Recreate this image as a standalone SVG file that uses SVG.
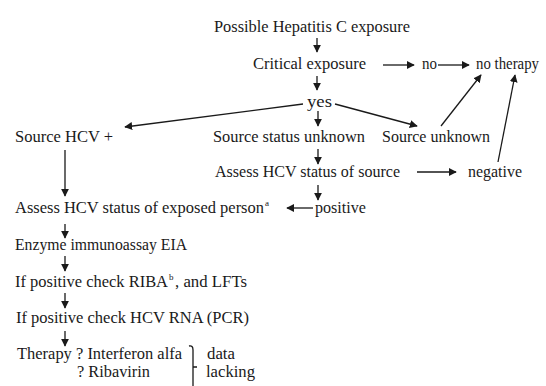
<svg xmlns="http://www.w3.org/2000/svg" width="546" height="386" viewBox="0 0 546 386">
<style>
text{font-family:"Liberation Serif","Times New Roman","DejaVu Serif",serif;font-size:16.4px;fill:#1a1a1a}
.s{font-size:9px}
.c line,.c path{stroke:#1a1a1a;stroke-width:1.3;fill:none}
</style>
<defs>
<marker id="ah" viewBox="0 0 10 10" refX="9" refY="5" markerWidth="8" markerHeight="8" markerUnits="userSpaceOnUse" orient="auto">
<path d="M0,0L10,5L0,10z" fill="#1a1a1a"/>
</marker>
</defs>
<rect width="546" height="386" fill="#fff"/>
<g class="c" id="connectors">
<line x1="317" y1="38" x2="317" y2="52" marker-end="url(#ah)"/>
<line x1="383" y1="65" x2="414" y2="65" marker-end="url(#ah)"/>
<line x1="438" y1="65" x2="469" y2="65" marker-end="url(#ah)"/>
<line x1="317" y1="76" x2="317" y2="90" marker-end="url(#ah)"/>
<line x1="303" y1="104" x2="125" y2="127" marker-end="url(#ah)"/>
<line x1="335" y1="104" x2="417" y2="126" marker-end="url(#ah)"/>
<line x1="318" y1="111" x2="318" y2="126" marker-end="url(#ah)"/>
<line x1="441" y1="126" x2="481" y2="75" marker-end="url(#ah)"/>
<line x1="498" y1="162" x2="515" y2="75" marker-end="url(#ah)"/>
<line x1="318" y1="149" x2="318" y2="164" marker-end="url(#ah)"/>
<line x1="417" y1="172" x2="456" y2="172" marker-end="url(#ah)"/>
<line x1="318" y1="185" x2="318" y2="200" marker-end="url(#ah)"/>
<line x1="313" y1="208" x2="287" y2="208" marker-end="url(#ah)"/>
<line x1="65" y1="150" x2="65" y2="196" marker-end="url(#ah)"/>
<line x1="65" y1="224" x2="65" y2="238" marker-end="url(#ah)"/>
<line x1="65" y1="256" x2="65" y2="271" marker-end="url(#ah)"/>
<line x1="65" y1="293" x2="65" y2="308" marker-end="url(#ah)"/>
<line x1="65" y1="331" x2="65" y2="346" marker-end="url(#ah)"/>
<path d="M189,346 Q193,345 193,350 L193,386 M193,367 L197,367"/>
</g>
<g id="n-possible"><text x="214" y="32" textLength="196" lengthAdjust="spacingAndGlyphs">Possible Hepatitis C exposure</text></g>
<g id="n-critical"><text x="253" y="69" textLength="113" lengthAdjust="spacingAndGlyphs">Critical exposure</text></g>
<g id="n-no"><text x="422" y="69" textLength="15" lengthAdjust="spacingAndGlyphs">no</text></g>
<g id="n-notherapy"><text x="476" y="69" textLength="63" lengthAdjust="spacingAndGlyphs">no therapy</text></g>
<g id="n-yes"><text x="307" y="107" textLength="25" lengthAdjust="spacingAndGlyphs">yes</text></g>
<g id="n-sourcehcv"><text x="15" y="142" textLength="98" lengthAdjust="spacingAndGlyphs">Source HCV +</text></g>
<g id="n-statusunknown"><text x="213" y="142" textLength="152" lengthAdjust="spacingAndGlyphs">Source status unknown</text></g>
<g id="n-sourceunknown"><text x="382" y="142" textLength="108" lengthAdjust="spacingAndGlyphs">Source unknown</text></g>
<g id="n-assesssource"><text x="215" y="177" textLength="185" lengthAdjust="spacingAndGlyphs">Assess HCV status of source</text></g>
<g id="n-negative"><text x="468" y="177" textLength="54" lengthAdjust="spacingAndGlyphs">negative</text></g>
<g id="n-positive"><text x="315" y="213" textLength="51" lengthAdjust="spacingAndGlyphs">positive</text></g>
<g id="n-assessperson"><text x="15" y="213" textLength="249" lengthAdjust="spacingAndGlyphs">Assess HCV status of exposed person</text><text class="s" x="265" y="206">a</text></g>
<g id="n-eia"><text x="15" y="250" textLength="172" lengthAdjust="spacingAndGlyphs">Enzyme immunoassay EIA</text></g>
<g id="n-riba"><text x="15" y="287" textLength="153" lengthAdjust="spacingAndGlyphs">If positive check RIBA</text><text class="s" x="169" y="280">b</text><text x="175" y="287" textLength="72" lengthAdjust="spacingAndGlyphs">, and LFTs</text></g>
<g id="n-pcr"><text x="16" y="323" textLength="233" lengthAdjust="spacingAndGlyphs">If positive check HCV RNA (PCR)</text></g>
<g id="n-therapy"><text x="17" y="359" textLength="165" lengthAdjust="spacingAndGlyphs">Therapy ? Interferon alfa</text><text x="77" y="377" textLength="73" lengthAdjust="spacingAndGlyphs">? Ribavirin</text></g>
<g id="n-datalacking"><text x="207" y="359" textLength="28" lengthAdjust="spacingAndGlyphs">data</text><text x="206" y="377" textLength="49" lengthAdjust="spacingAndGlyphs">lacking</text></g>
</svg>
